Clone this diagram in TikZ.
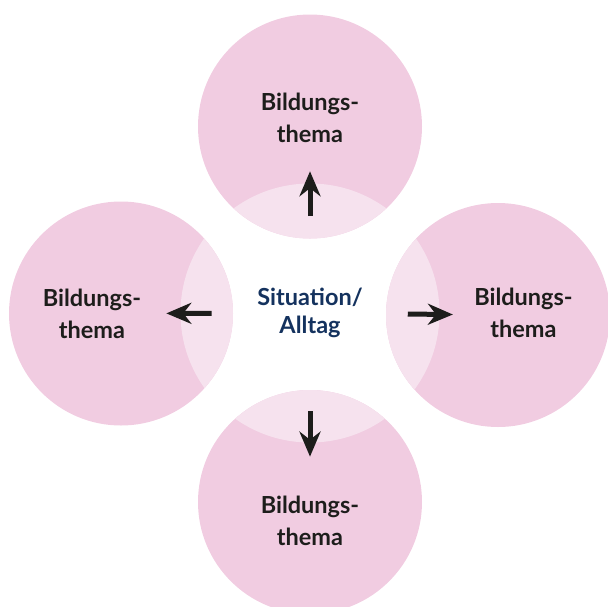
\documentclass[tikz,border=0pt]{standalone}
\usepackage{fontspec}
\setmainfont{Lato}
\usepackage{xcolor}
\usepackage{tikz}
\usetikzlibrary{arrows.meta,calc}

\definecolor{themapink}{RGB}{241,204,225}
\definecolor{lenspink}{RGB}{246,226,238}
\definecolor{alltagblue}{RGB}{20,50,94}
\definecolor{pfeilblack}{RGB}{29,29,27}

\tikzset{
  themacircle/.style={circle, fill=themapink, minimum size=224pt, inner sep=0pt},
  thematext/.style={align=center, text=pfeilblack, font=\bfseries\fontsize{23.5}{32}\selectfont},
  alltagtext/.style={align=center, text=alltagblue, font=\bfseries\fontsize{23.5}{28}\selectfont},
  pfeil/.style={draw=pfeilblack, line width=5pt, -{Stealth[length=25pt, width=21pt]}}
}

\begin{document}
\begin{tikzpicture}[x=1pt, y=-1pt]
      \useasboundingbox (0, 0) rectangle (608, 606);
      \coordinate (mid) at (310, 313);
      \node [themacircle] (oben) at (310, 126.5) {};
      \node [themacircle] (links) at (121, 313.5) {};
      \node [themacircle] (rechts) at (498, 315) {};
      \node [themacircle] (unten) at (310, 502) {};
      \begin{scope}
        \clip (mid) circle (129.5);
        \foreach \c in {oben, links, rechts, unten}
          \fill [lenspink] (\c) circle (112);
      \end{scope}
      \node [thematext] (toben) at ([yshift=8.5pt]oben) {Bildungs-\\thema};
      \node [thematext] (tlinks) at ([xshift=-29pt]links) {Bildungs-\\thema};
      \node [thematext] (trechts) at ([xshift=25.5pt, yshift=2.5pt]rechts) {Bildungs-\\thema};
      \node [thematext] (tunten) at ([yshift=-19pt]unten) {Bildungs-\\thema};
      \node [alltagtext] (alltag) at (mid) {Situation/\\Alltag};
      \foreach \c in {oben, links, rechts, unten}
        \draw [pfeil] ($(mid)!0.52!(\c)$) -- ($(mid)!0.76!(\c)$);
    \end{tikzpicture}
\end{document}
